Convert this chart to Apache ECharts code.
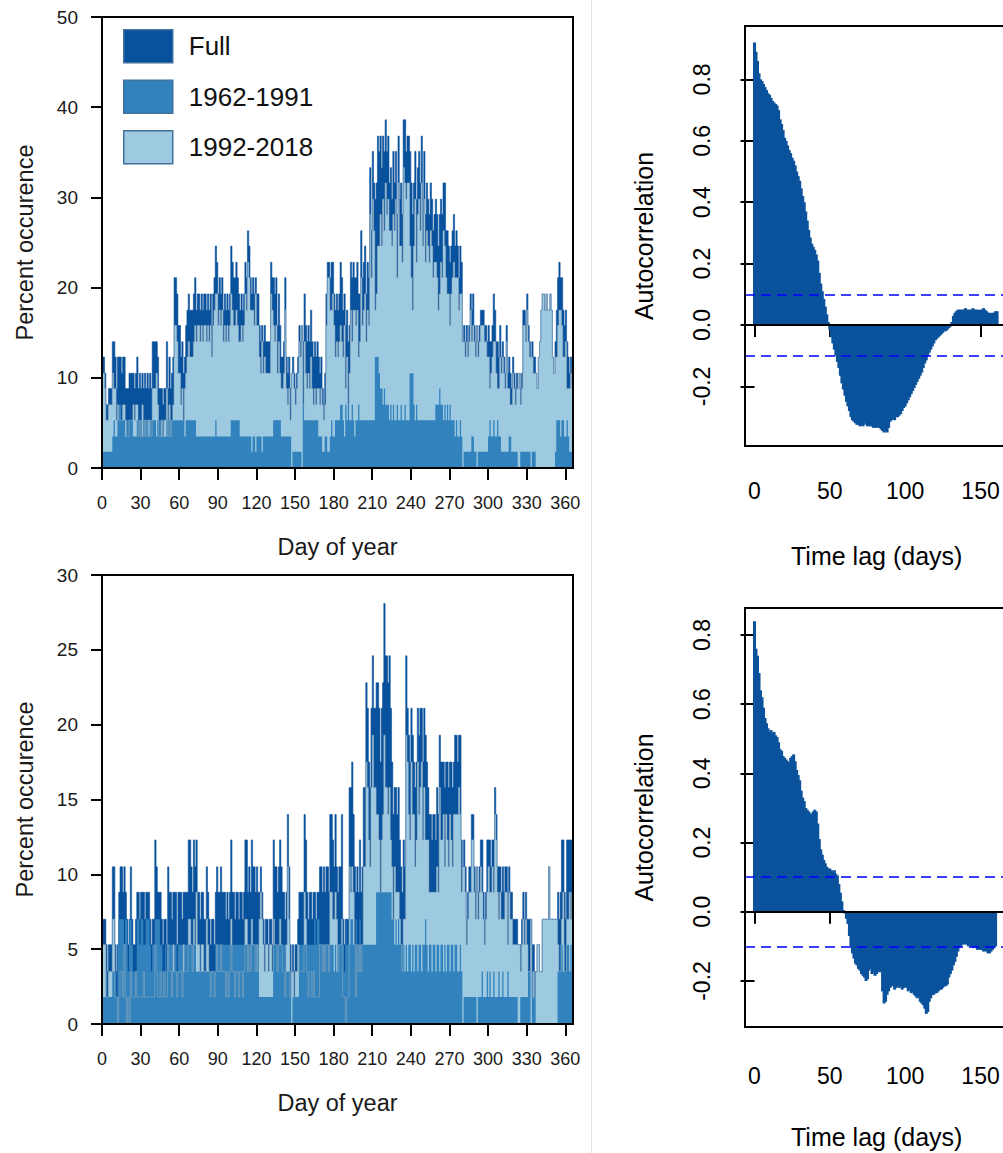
<!DOCTYPE html>
<html><head><meta charset="utf-8">
<script src="https://cdn.jsdelivr.net/npm/echarts@6/dist/echarts.min.js"></script>
<style>html,body{margin:0;padding:0;background:#fff}#c{width:1003px;height:1153px}</style>
</head><body><div id="c"></div>
<script>
// ---------- categories / ticks ----------
const seriesNames = ['Full', '1962-1991', '1992-2018'];
const dayTicks = [0, 30, 60, 90, 120, 150, 180, 210, 240, 270, 300, 330, 360];
const lagTicks = [0, 50, 100, 150];
const acfTicks = [-0.2, 0, 0.2, 0.4, 0.6, 0.8];
const ciTop = 0.102;
const ciBottom = 0.103;

// ---------- top-left panel: percent occurrence per day of year (days 1..366) ----------
const topFull = [12.3,12.3,10.5,7,7,8.8,8.8,8.8,14,14,
12.3,8.8,12.3,12.3,12.3,10.5,12.3,12.3,8.8,8.8,
8.8,10.5,10.5,10.5,10.5,8.8,10.5,12.3,8.8,10.5,
8.8,10.5,8.8,10.5,8.8,10.5,8.8,10.5,8.8,14,
14,14,14,12.3,8.8,8.8,8.8,7,8.8,8.8,
14,8.8,12.3,8.8,10.5,12.3,21.1,21.1,19.3,15.8,
15.8,12.3,14,10.5,12.3,15.8,17.5,19.3,17.5,17.5,
17.5,19.3,21.1,17.5,19.3,19.3,17.5,19.3,17.5,19.3,
19.3,17.5,19.3,17.5,19.3,15.8,19.3,21.1,24.6,22.8,
19.3,21.1,19.3,21.1,17.5,19.3,17.5,19.3,17.5,19.3,
24.6,22.8,21.1,21.1,22.8,21.1,19.3,17.5,19.3,17.5,
19.3,22.8,21.1,26.3,24.6,21.1,19.3,21.1,19.3,21.1,
19.3,19.3,15.8,14,15.8,14,15.8,14,14,14,
14,22.8,21.1,21.1,19.3,21.1,15.8,19.3,15.8,12.3,
12.3,14,21.1,12.3,10.5,12.3,8.8,10.5,12.3,10.5,
8.8,10.5,12.3,15.8,14,15.8,14,19.3,15.8,14,
15.8,14,17.5,14,12.3,14,12.3,14,12.3,10.5,
12.3,8.8,7,10.5,19.3,22.8,22.8,21.1,22.8,22.8,
19.3,17.5,19.3,17.5,19.3,22.8,21.1,17.5,19.3,15.8,
17.5,14,15.8,22.8,21.1,22.8,21.1,21.1,22.8,19.3,
19.3,26.3,21.1,22.8,24.6,19.3,22.8,21.1,33.3,26.3,
35.1,31.6,29.8,31.6,36.8,35.1,36.8,33.3,36.8,35.1,
38.6,35.1,36.8,31.6,33.3,29.8,35.1,31.6,35.1,28.1,
36.8,29.8,31.6,28.1,38.6,38.6,35.1,36.8,36.8,35.1,
31.6,28.1,31.6,35.1,29.8,33.3,35.1,31.6,36.8,29.8,
35.1,28.1,31.6,29.8,28.1,31.6,29.8,26.3,28.1,29.8,
28.1,24.6,28.1,29.8,28.1,31.6,31.6,26.3,26.3,24.6,
22.8,24.6,26.3,28.1,24.6,26.3,24.6,21.1,24.6,22.8,
14,15.8,14,15.8,14,15.8,19.3,17.5,19.3,15.8,
14,15.8,14,15.8,17.5,17.5,17.5,15.8,15.8,14,
15.8,14,14,15.8,19.3,17.5,14,14,12.3,15.8,
12.3,14,12.3,10.5,15.8,10.5,12.3,10.5,8.8,12.3,
10.5,8.8,10.5,8.8,10.5,8.8,10.5,17.5,17.5,15.8,
19.3,15.8,14,12.3,14,12.3,12.3,10.5,8.8,12.3,
14,17.5,19.3,19.3,17.5,19.3,17.5,17.5,19.3,17.5,
12.3,10.5,14,17.5,21.1,22.8,21.1,21.1,17.5,15.8,
17.5,14,12.3,10.5,12.3,10.5];

const top1962 = [1.8,1.8,1.8,1.8,1.8,1.8,1.8,1.8,3.5,5.3,
3.5,3.5,5.3,7,7,5.3,5.3,5.3,3.5,5.3,
5.3,5.3,5.3,5.3,3.5,3.5,3.5,5.3,5.3,5.3,
5.3,3.5,5.3,5.3,5.3,5.3,3.5,5.3,5.3,5.3,
5.3,5.3,3.5,5.3,5.3,5.3,3.5,3.5,3.5,3.5,
5.3,5.3,5.3,5.3,5.3,5.3,5.3,5.3,5.3,5.3,
5.3,5.3,5.3,5.3,3.5,5.3,5.3,5.3,5.3,5.3,
5.3,5.3,5.3,3.5,3.5,3.5,3.5,3.5,3.5,3.5,
3.5,3.5,3.5,3.5,3.5,3.5,3.5,3.5,5.3,3.5,
3.5,3.5,3.5,3.5,3.5,3.5,3.5,3.5,3.5,3.5,
5.3,5.3,5.3,5.3,5.3,5.3,5.3,3.5,3.5,3.5,
3.5,3.5,3.5,3.5,3.5,3.5,1.8,3.5,3.5,1.8,
3.5,3.5,3.5,3.5,1.8,3.5,3.5,3.5,3.5,3.5,
3.5,3.5,3.5,5.3,5.3,5.3,5.3,5.3,5.3,3.5,
3.5,3.5,3.5,3.5,3.5,3.5,3.5,0,1.8,1.8,
1.8,1.8,1.8,1.8,1.8,0,7,5.3,5.3,5.3,
5.3,5.3,5.3,5.3,5.3,5.3,5.3,5.3,3.5,3.5,
3.5,1.8,1.8,3.5,3.5,1.8,1.8,3.5,5.3,3.5,
3.5,5.3,5.3,5.3,5.3,7,7,5.3,3.5,7,
5.3,7,5.3,5.3,7,5.3,3.5,5.3,5.3,7,
5.3,5.3,5.3,5.3,5.3,5.3,5.3,5.3,5.3,5.3,
5.3,5.3,12.3,12.3,12.3,10.5,8.8,8.8,7,8.8,
7,7,7,5.3,7,5.3,7,5.3,5.3,7,
5.3,5.3,7,5.3,5.3,7,5.3,5.3,5.3,10.5,
10.5,10.5,7,5.3,7,5.3,5.3,5.3,5.3,5.3,
5.3,5.3,5.3,5.3,5.3,5.3,5.3,5.3,5.3,7,
7,7,8.8,7,7,5.3,7,5.3,7,5.3,
7,5.3,5.3,5.3,3.5,5.3,3.5,3.5,5.3,3.5,
0,1.8,1.8,1.8,1.8,1.8,1.8,3.5,3.5,1.8,
1.8,0,1.8,1.8,1.8,1.8,1.8,1.8,1.8,1.8,
3.5,5.3,3.5,3.5,5.3,3.5,3.5,5.3,3.5,3.5,
1.8,1.8,1.8,1.8,1.8,1.8,3.5,3.5,1.8,1.8,
1.8,1.8,1.8,0,0,1.8,1.8,1.8,1.8,1.8,
1.8,1.8,1.8,0,1.8,1.8,1.8,0,0,0,
0,0,0,0,0,0,0,0,0,0,
0,0,1.8,5.3,5.3,5.3,3.5,5.3,5.3,3.5,
3.5,5.3,3.5,1.8,1.8,1.8];

const top1992 = [10.5,10.5,8.8,5.3,5.3,7,7,7,10.5,8.8,
8.8,5.3,7,5.3,5.3,5.3,7,7,5.3,3.5,
3.5,5.3,5.3,5.3,7,5.3,7,7,3.5,5.3,
3.5,7,3.5,5.3,3.5,5.3,5.3,5.3,3.5,8.8,
8.8,8.8,10.5,7,3.5,3.5,5.3,3.5,5.3,5.3,
8.8,3.5,7,3.5,5.3,7,15.8,15.8,14,10.5,
10.5,7,8.8,5.3,8.8,10.5,12.3,14,12.3,12.3,
12.3,14,15.8,14,15.8,15.8,14,15.8,14,15.8,
15.8,14,15.8,14,15.8,12.3,15.8,17.5,19.3,19.3,
15.8,17.5,15.8,17.5,14,15.8,14,15.8,14,15.8,
19.3,17.5,15.8,15.8,17.5,15.8,14,14,15.8,14,
15.8,19.3,17.5,22.8,21.1,17.5,17.5,17.5,15.8,19.3,
15.8,15.8,12.3,10.5,14,10.5,12.3,10.5,10.5,10.5,
10.5,19.3,17.5,15.8,14,15.8,10.5,14,10.5,8.8,
8.8,10.5,17.5,8.8,7,8.8,5.3,10.5,10.5,8.8,
7,8.8,10.5,14,12.3,15.8,7,14,10.5,8.8,
10.5,8.8,12.3,8.8,7,8.8,7,8.8,8.8,7,
8.8,7,5.3,7,15.8,21.1,21.1,17.5,17.5,19.3,
15.8,12.3,14,12.3,14,15.8,14,12.3,15.8,8.8,
12.3,7,10.5,17.5,14,17.5,17.5,15.8,17.5,12.3,
14,21.1,15.8,17.5,19.3,14,17.5,15.8,28.1,21.1,
29.8,26.3,17.5,19.3,24.6,24.6,28.1,24.6,29.8,26.3,
31.6,28.1,29.8,26.3,26.3,24.6,28.1,26.3,29.8,21.1,
31.6,24.6,24.6,22.8,33.3,31.6,29.8,31.6,31.6,24.6,
21.1,17.5,24.6,29.8,22.8,28.1,29.8,26.3,31.6,24.6,
29.8,22.8,26.3,24.6,22.8,26.3,24.6,21.1,22.8,22.8,
21.1,17.5,19.3,22.8,21.1,26.3,24.6,21.1,19.3,19.3,
15.8,19.3,21.1,22.8,21.1,21.1,21.1,17.5,19.3,19.3,
14,14,12.3,14,12.3,14,17.5,14,15.8,14,
12.3,15.8,12.3,14,15.8,15.8,15.8,14,14,12.3,
12.3,8.8,10.5,12.3,14,14,10.5,8.8,8.8,12.3,
10.5,12.3,10.5,8.8,14,8.8,8.8,7,7,10.5,
8.8,7,8.8,8.8,10.5,7,8.8,15.8,15.8,14,
17.5,14,12.3,12.3,12.3,10.5,10.5,10.5,8.8,12.3,
14,17.5,19.3,19.3,17.5,19.3,17.5,17.5,19.3,17.5,
12.3,10.5,12.3,12.3,15.8,17.5,17.5,15.8,12.3,12.3,
14,8.8,8.8,8.8,10.5,8.8];

// ---------- bottom-left panel (days 1..366) ----------
const botFull = [7,7,7,5.3,3.5,5.3,5.3,5.3,10.5,10.5,
5.3,3.5,5.3,8.8,10.5,10.5,8.8,10.5,8.8,7,
5.3,7,10.5,7,5.3,5.3,7,8.8,8.8,7,
8.8,8.8,8.8,7,8.8,8.8,8.8,7,5.3,7,
7,12.3,10.5,8.8,8.8,8.8,7,5.3,7,7,
5.3,10.5,8.8,8.8,7,8.8,8.8,8.8,5.3,8.8,
8.8,8.8,7,8.8,8.8,8.8,8.8,12.3,12.3,10.5,
8.8,12.3,10.5,12.3,8.8,8.8,7,8.8,8.8,7,
7,10.5,8.8,7,5.3,7,7,5.3,8.8,10.5,
8.8,8.8,10.5,8.8,8.8,8.8,7,8.8,7,8.8,
12.3,8.8,8.8,7,8.8,8.8,7,8.8,8.8,7,
8.8,12.3,12.3,8.8,10.5,8.8,12.3,10.5,10.5,8.8,
10.5,8.8,8.8,10.5,8.8,7,5.3,7,7,5.3,
7,7,5.3,12.3,10.5,10.5,8.8,10.5,12.3,10.5,
8.8,8.8,7,8.8,14,10.5,5.3,3.5,5.3,3.5,
5.3,5.3,7,8.8,8.8,8.8,8.8,14,12.3,8.8,
7,8.8,8.8,7,8.8,8.8,7,8.8,8.8,10.5,
10.5,8.8,10.5,8.8,10.5,10.5,8.8,14,14,12.3,
10.5,14,10.5,8.8,10.5,10.5,14,7,5.3,7,
7,7,15.8,15.8,17.5,14,10.5,8.8,10.5,8.8,
12.3,8.8,10.5,15.8,15.8,22.8,21.1,17.5,15.8,21.1,
24.6,21.1,21.1,22.8,22.8,21.1,17.5,21.1,22.8,28.1,
24.6,24.6,22.8,24.6,21.1,17.5,14,15.8,15.8,14,
15.8,12.3,10.5,8.8,12.3,10.5,24.6,21.1,19.3,17.5,
21.1,19.3,17.5,15.8,17.5,21.1,19.3,21.1,21.1,17.5,
21.1,19.3,17.5,15.8,14,14,12.3,14,14,12.3,
15.8,14,19.3,17.5,17.5,17.5,15.8,17.5,17.5,15.8,
17.5,17.5,15.8,17.5,19.3,19.3,17.5,19.3,19.3,12.3,
10.5,12.3,10.5,7,8.8,10.5,10.5,14,14,10.5,
8.8,10.5,8.8,10.5,12.3,12.3,8.8,7,8.8,12.3,
12.3,12.3,10.5,12.3,12.3,15.8,14,10.5,10.5,10.5,
8.8,10.5,8.8,10.5,10.5,8.8,10.5,8.8,8.8,7,
7,7,7,5.3,5.3,5.3,7,8.8,7,8.8,
7,7,7,7,5.3,5.3,3.5,3.5,5.3,5.3,
3.5,3.5,7,7,7,7,7,10.5,7,7,
7,7,7,7,8.8,7,8.8,12.3,12.3,8.8,
7,12.3,12.3,12.3,12.3,12.3];

const bot1962 = [1.8,1.8,1.8,3.5,1.8,1.8,1.8,1.8,3.5,3.5,
3.5,1.8,5.3,7,7,7,7,5.3,7,7,
3.5,7,7,5.3,3.5,3.5,3.5,7,7,5.3,
7,7,5.3,5.3,7,7,7,5.3,3.5,5.3,
5.3,7,7,7,7,5.3,5.3,3.5,3.5,5.3,
3.5,5.3,5.3,5.3,5.3,3.5,5.3,5.3,3.5,5.3,
5.3,5.3,5.3,3.5,5.3,5.3,5.3,5.3,5.3,5.3,
5.3,5.3,5.3,3.5,3.5,3.5,3.5,3.5,3.5,3.5,
3.5,3.5,3.5,3.5,3.5,3.5,3.5,3.5,5.3,5.3,
5.3,5.3,5.3,5.3,5.3,5.3,5.3,5.3,5.3,5.3,
5.3,5.3,5.3,5.3,5.3,5.3,5.3,5.3,5.3,5.3,
5.3,5.3,5.3,5.3,5.3,5.3,5.3,5.3,5.3,5.3,
5.3,5.3,1.8,1.8,1.8,1.8,1.8,1.8,1.8,1.8,
1.8,1.8,1.8,5.3,5.3,5.3,5.3,5.3,5.3,5.3,
5.3,5.3,5.3,3.5,3.5,3.5,3.5,0,1.8,1.8,
1.8,1.8,1.8,5.3,5.3,5.3,5.3,5.3,5.3,5.3,
5.3,5.3,5.3,5.3,5.3,7,5.3,7,7,5.3,
5.3,5.3,5.3,5.3,5.3,5.3,5.3,5.3,5.3,5.3,
3.5,5.3,3.5,5.3,5.3,5.3,7,5.3,3.5,7,
5.3,5.3,5.3,7,7,5.3,5.3,7,5.3,5.3,
7,5.3,5.3,5.3,5.3,5.3,5.3,5.3,5.3,5.3,
5.3,5.3,5.3,8.8,8.8,8.8,8.8,8.8,8.8,8.8,
8.8,8.8,8.8,8.8,8.8,7,7,5.3,7,5.3,
7,5.3,5.3,5.3,5.3,3.5,5.3,3.5,5.3,5.3,
3.5,5.3,3.5,5.3,5.3,3.5,5.3,5.3,3.5,5.3,
5.3,7,5.3,3.5,5.3,5.3,3.5,5.3,5.3,3.5,
5.3,5.3,3.5,5.3,5.3,3.5,5.3,3.5,5.3,5.3,
3.5,5.3,5.3,3.5,5.3,5.3,3.5,3.5,5.3,3.5,
0,1.8,1.8,1.8,1.8,1.8,1.8,1.8,1.8,1.8,
1.8,0,1.8,1.8,1.8,3.5,1.8,1.8,1.8,3.5,
1.8,3.5,1.8,1.8,3.5,1.8,1.8,1.8,3.5,1.8,
1.8,3.5,1.8,1.8,1.8,3.5,1.8,1.8,1.8,1.8,
1.8,1.8,1.8,0,0,1.8,1.8,1.8,1.8,1.8,
1.8,3.5,3.5,0,3.5,1.8,1.8,0,0,0,
0,0,0,0,0,0,0,0,0,0,
0,0,0,0,3.5,3.5,5.3,5.3,3.5,5.3,
3.5,5.3,5.3,3.5,5.3,3.5];

const bot1992 = [5.3,5.3,5.3,1.8,1.8,3.5,3.5,3.5,7,7,
1.8,1.8,0,1.8,3.5,3.5,1.8,5.3,1.8,0,
1.8,0,3.5,1.8,1.8,1.8,3.5,1.8,1.8,1.8,
1.8,1.8,3.5,1.8,1.8,1.8,1.8,1.8,1.8,1.8,
1.8,5.3,3.5,1.8,1.8,3.5,1.8,1.8,3.5,1.8,
1.8,5.3,3.5,3.5,1.8,5.3,3.5,3.5,1.8,3.5,
3.5,3.5,1.8,5.3,3.5,3.5,3.5,7,7,5.3,
3.5,7,5.3,8.8,5.3,5.3,3.5,5.3,5.3,3.5,
3.5,7,5.3,3.5,1.8,3.5,3.5,1.8,3.5,5.3,
3.5,3.5,5.3,3.5,3.5,3.5,1.8,3.5,1.8,3.5,
7,3.5,3.5,1.8,3.5,3.5,1.8,3.5,3.5,1.8,
3.5,7,7,3.5,5.3,3.5,7,5.3,5.3,3.5,
5.3,3.5,7,8.8,7,5.3,3.5,5.3,5.3,3.5,
5.3,5.3,3.5,7,5.3,5.3,3.5,5.3,7,5.3,
3.5,3.5,1.8,5.3,10.5,7,1.8,3.5,3.5,1.8,
3.5,3.5,5.3,3.5,3.5,3.5,3.5,8.8,7,3.5,
1.8,3.5,3.5,1.8,3.5,1.8,1.8,1.8,1.8,5.3,
5.3,3.5,5.3,3.5,5.3,5.3,3.5,8.8,8.8,7,
7,8.8,7,3.5,5.3,5.3,7,1.8,1.8,0,
1.8,1.8,10.5,8.8,10.5,8.8,5.3,1.8,5.3,3.5,
5.3,3.5,5.3,10.5,10.5,17.5,15.8,12.3,10.5,15.8,
19.3,15.8,15.8,14,14,12.3,8.8,12.3,14,19.3,
15.8,15.8,14,15.8,12.3,10.5,7,10.5,8.8,8.8,
8.8,7,5.3,3.5,7,7,19.3,17.5,14,12.3,
17.5,14,14,10.5,12.3,17.5,14,15.8,17.5,12.3,
15.8,12.3,12.3,12.3,8.8,8.8,8.8,8.8,8.8,8.8,
10.5,8.8,15.8,12.3,12.3,14,10.5,14,12.3,10.5,
14,12.3,10.5,14,14,14,14,15.8,14,8.8,
10.5,10.5,8.8,5.3,7,8.8,8.8,12.3,12.3,8.8,
7,10.5,7,8.8,10.5,8.8,7,5.3,7,8.8,
10.5,8.8,8.8,10.5,8.8,14,12.3,8.8,7,8.8,
7,7,7,8.8,8.8,5.3,8.8,7,7,5.3,
5.3,5.3,5.3,5.3,5.3,3.5,5.3,7,5.3,7,
5.3,3.5,3.5,7,1.8,3.5,1.8,3.5,5.3,5.3,
3.5,3.5,7,7,7,7,7,10.5,7,7,
7,7,7,7,5.3,3.5,3.5,7,8.8,3.5,
3.5,7,7,8.8,7,8.8];

// ---------- autocorrelation (lag 0..n) ----------
const acfTop = [0.92,0.89,0.86,0.82,0.80,0.795,0.785,0.775,0.765,0.755,
0.75,0.74,0.73,0.725,0.72,0.715,0.70,0.67,0.655,0.635,
0.61,0.60,0.585,0.57,0.56,0.545,0.535,0.52,0.50,0.485,
0.47,0.445,0.42,0.40,0.37,0.34,0.31,0.285,0.265,0.255,
0.245,0.23,0.21,0.17,0.135,0.11,0.085,0.06,0.035,0.01,
-0.015,-0.04,-0.06,-0.08,-0.10,-0.12,-0.14,-0.165,-0.19,-0.21,
-0.23,-0.25,-0.265,-0.28,-0.30,-0.31,-0.315,-0.32,-0.325,-0.325,
-0.33,-0.325,-0.33,-0.32,-0.325,-0.33,-0.325,-0.33,-0.33,-0.335,
-0.33,-0.335,-0.33,-0.335,-0.34,-0.345,-0.35,-0.345,-0.35,-0.335,
-0.315,-0.31,-0.305,-0.31,-0.30,-0.30,-0.295,-0.29,-0.28,-0.27,
-0.265,-0.255,-0.245,-0.235,-0.225,-0.215,-0.205,-0.195,-0.185,-0.175,
-0.165,-0.155,-0.14,-0.125,-0.115,-0.10,-0.09,-0.08,-0.07,-0.06,
-0.05,-0.045,-0.04,-0.035,-0.03,-0.025,-0.02,-0.02,-0.015,-0.01,
-0.005,0.01,0.03,0.04,0.045,0.05,0.05,0.05,0.05,0.05,
0.055,0.05,0.05,0.05,0.05,0.055,0.05,0.05,0.05,0.045,
0.05,0.05,0.055,0.05,0.045,0.04,0.04,0.035,0.04,0.04,
0.045,0.045];

const acfBottom = [0.84,0.76,0.74,0.69,0.64,0.62,0.59,0.56,0.545,0.53,
0.52,0.525,0.515,0.52,0.51,0.505,0.49,0.47,0.465,0.45,
0.445,0.44,0.435,0.43,0.445,0.45,0.455,0.435,0.41,0.395,
0.38,0.35,0.33,0.32,0.30,0.295,0.29,0.285,0.28,0.29,
0.295,0.29,0.255,0.21,0.18,0.165,0.15,0.14,0.13,0.125,
0.125,0.12,0.115,0.12,0.11,0.105,0.08,0.055,0.03,0.005,
-0.005,-0.02,-0.035,-0.07,-0.10,-0.12,-0.135,-0.15,-0.155,-0.165,
-0.17,-0.18,-0.185,-0.19,-0.20,-0.195,-0.17,-0.165,-0.18,-0.175,
-0.185,-0.18,-0.17,-0.175,-0.17,-0.23,-0.265,-0.26,-0.24,-0.23,
-0.22,-0.215,-0.215,-0.225,-0.22,-0.215,-0.22,-0.215,-0.225,-0.22,
-0.215,-0.22,-0.23,-0.225,-0.235,-0.23,-0.24,-0.245,-0.25,-0.245,
-0.26,-0.265,-0.27,-0.28,-0.295,-0.29,-0.26,-0.25,-0.24,-0.24,
-0.235,-0.235,-0.23,-0.225,-0.225,-0.22,-0.215,-0.215,-0.21,-0.19,
-0.18,-0.17,-0.155,-0.145,-0.13,-0.115,-0.105,-0.10,-0.095,-0.09,
-0.095,-0.09,-0.10,-0.095,-0.10,-0.105,-0.10,-0.105,-0.11,-0.105,
-0.11,-0.11,-0.115,-0.11,-0.115,-0.12,-0.12,-0.115,-0.11,-0.105,
-0.10];

// ---------- styling ----------
const cFull = '#08519c', c1962 = '#3182bd', c1992 = '#9ecae1', cAcf = '#0a529c';
const fontL = "'Liberation Sans', Arial, sans-serif";
const ink = '#1a1a1a';

// day d (1-based) occupies [d-1, d]
function steps(arr) {
  const out = arr.map((v, i) => [i, v]);
  out.push([arr.length, arr[arr.length - 1]]);
  return out;
}
function stepSeries(name, arr, color, idx, lineStyle) {
  return { type: 'line', name, xAxisIndex: idx, yAxisIndex: idx, data: steps(arr), step: 'end',
    symbol: 'none', showSymbol: false, color, itemStyle: { color }, areaStyle: { color, opacity: 1 },
    lineStyle, silent: true, animation: false, z: 2 };
}
function acfSeries(arr, idx, ci) {
  return { type: 'bar', name: 'ACF' + idx, xAxisIndex: idx, yAxisIndex: idx,
    data: arr.map((v, i) => [i, v]), barWidth: 3, itemStyle: { color: cAcf }, silent: true, animation: false,
    markLine: { silent: true, animation: false, symbol: ['none', 'none'], label: { show: false },
      data: [
        { yAxis: 0, lineStyle: { color: '#000', width: 2, type: 'solid' } },
        { yAxis: ci, lineStyle: { color: '#0000ff', width: 1.5, type: [10, 6] } },
        { yAxis: -ci, lineStyle: { color: '#0000ff', width: 1.5, type: [10, 6] } }
      ] } };
}
const gridBase = { show: true, borderColor: '#000', borderWidth: 2, backgroundColor: 'transparent',
  containLabel: false, outerBoundsMode: 'none', z: 10 };
function dayAxis(idx) {
  return { type: 'value', gridIndex: idx, min: 0, max: 366, axisLine: { show: false }, splitLine: { show: false },
    axisTick: { show: true, length: 12, customValues: dayTicks, lineStyle: { color: '#000', width: 2 } },
    axisLabel: { customValues: dayTicks, margin: 26, fontSize: 18, fontFamily: fontL, color: ink },
    name: 'Day of year', nameLocation: 'middle', nameGap: 67,
    nameTextStyle: { fontSize: 23.5, fontFamily: fontL, color: ink } };
}
function pctAxis(idx, max, interval) {
  return { type: 'value', gridIndex: idx, min: 0, max, interval, axisLine: { show: false }, splitLine: { show: false },
    axisTick: { show: true, length: 11, lineStyle: { color: '#000', width: 2 } },
    axisLabel: { margin: 24, fontSize: 19, fontFamily: fontL, color: ink },
    name: 'Percent occurence', nameLocation: 'middle', nameGap: 65,
    nameTextStyle: { fontSize: 23.5, fontFamily: fontL, color: ink } };
}
function lagAxis(idx, margin) {
  return { type: 'value', gridIndex: idx, min: -6.3, max: 168.5, offset: 3, axisLine: { show: false }, splitLine: { show: false },
    axisTick: { show: true, length: 12, customValues: lagTicks, lineStyle: { color: '#000', width: 2 } },
    axisLabel: { customValues: lagTicks, margin, fontSize: 23, fontFamily: fontL, color: '#000' },
    name: 'Time lag (days)', nameLocation: 'middle', nameGap: 94,
    nameTextStyle: { fontSize: 25, fontFamily: fontL, color: '#000' } };
}
function acfAxis(idx, min, max) {
  return { type: 'value', gridIndex: idx, min, max, axisLine: { show: false }, splitLine: { show: false },
    axisTick: { show: true, length: 14, customValues: acfTicks, lineStyle: { color: '#000', width: 2 } },
    axisLabel: { customValues: acfTicks, rotate: 90, margin: 32, fontSize: 23, fontFamily: fontL, color: '#000',
      formatter: v => Number(v).toFixed(1) },
    name: 'Autocorrelation', nameLocation: 'middle', nameGap: 89,
    nameTextStyle: { fontSize: 25, fontFamily: fontL, color: '#000' } };
}

const chart = echarts.init(document.getElementById('c'), null, { renderer: 'svg', width: 1003, height: 1153 });
chart.setOption({
  animation: false,
  backgroundColor: '#fff',
  graphic: [{ type: 'line', shape: { x1: 591.5, y1: 0, x2: 591.5, y2: 1153 }, style: { stroke: '#e4e4e4', lineWidth: 1 }, silent: true }],
  legend: {
    show: true, orient: 'vertical', left: 123, top: 29, padding: 0, itemWidth: 49, itemHeight: 33, itemGap: 16,
    selectedMode: false,
    textStyle: { fontSize: 26, fontFamily: fontL, color: '#111', padding: [0, 0, 0, 11] },
    data: [
      { name: seriesNames[0], icon: 'rect', itemStyle: { color: cFull, borderColor: '#41719c', borderWidth: 1.5 } },
      { name: seriesNames[1], icon: 'rect', itemStyle: { color: c1962, borderColor: '#41719c', borderWidth: 1.5 } },
      { name: seriesNames[2], icon: 'rect', itemStyle: { color: c1992, borderColor: '#41719c', borderWidth: 1.5 } }
    ]
  },
  grid: [
    Object.assign({ left: 102, top: 17, width: 471, height: 451 }, gridBase),
    Object.assign({ left: 102, top: 575, width: 471, height: 449 }, gridBase),
    Object.assign({ left: 745, top: 26, width: 263.4, height: 420 }, gridBase),
    Object.assign({ left: 745, top: 608, width: 263.4, height: 419 }, gridBase)
  ],
  xAxis: [dayAxis(0), dayAxis(1), lagAxis(2, 30), lagAxis(3, 34)],
  yAxis: [pctAxis(0, 50, 10), pctAxis(1, 30, 5), acfAxis(2, -0.394, 0.974), acfAxis(3, -0.333, 0.878)],
  series: [
    stepSeries(seriesNames[0], topFull, cFull, 0, { color: cFull, width: 0.6 }),
    stepSeries(seriesNames[2], top1992, c1992, 0, { color: '#9db0bf', width: 0.5 }),
    stepSeries(seriesNames[1], top1962, c1962, 0, { color: c1962, width: 0, opacity: 0 }),
    stepSeries(seriesNames[0], botFull, cFull, 1, { color: cFull, width: 0.6 }),
    stepSeries(seriesNames[2], bot1992, c1992, 1, { color: '#9db0bf', width: 0.5 }),
    stepSeries(seriesNames[1], bot1962, c1962, 1, { color: c1962, width: 0, opacity: 0 }),
    acfSeries(acfTop, 2, ciTop),
    acfSeries(acfBottom, 3, ciBottom)
  ]
});
</script>
</body></html>
